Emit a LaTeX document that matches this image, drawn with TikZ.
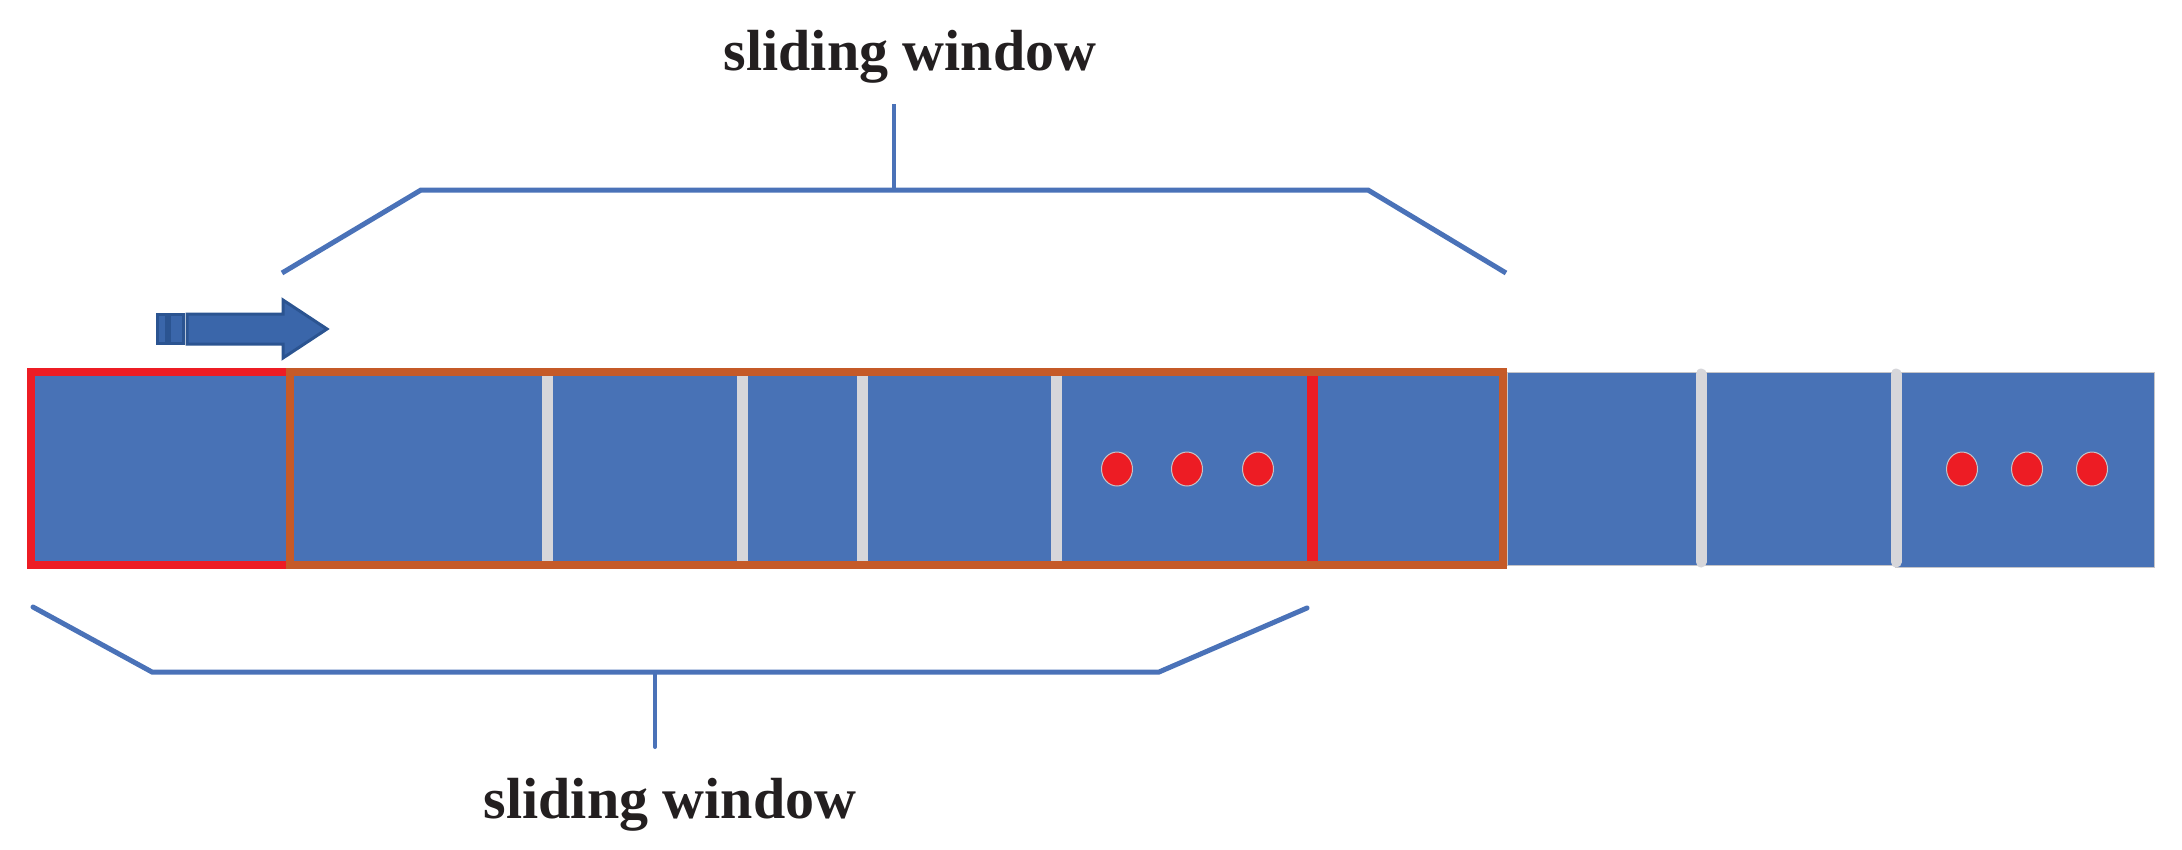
\documentclass[tikz,border=0pt]{standalone}
\usepackage{fontspec}
\setmainfont{Liberation Serif}
\definecolor{cellblue}{HTML}{4872B6}
\definecolor{brblue}{HTML}{4A72B8}
\definecolor{winorange}{HTML}{C55A28}
\definecolor{winred}{HTML}{ED1C24}
\definecolor{sepgray}{HTML}{D6D6DA}
\definecolor{edgegray}{HTML}{C4C4C8}
\definecolor{arrfill}{HTML}{3A66AA}
\definecolor{arredge}{HTML}{2B5491}
\definecolor{txt}{HTML}{231F20}
\tikzset{
  cell/.style={fill=cellblue, draw=edgegray, line width=1pt},
  sep/.style={draw=sepgray, line width=11pt, line cap=round},
  redsep/.style={draw=winred, line width=11pt, line cap=round},
  dot/.style={fill=winred, draw=edgegray, line width=1pt},
  bracket/.style={draw=brblue, line width=5pt, line join=miter},
  stem/.style={draw=brblue, line width=4pt},
  lbl/.style={font=\fontsize{58}{70}\selectfont\bfseries, text=txt, anchor=base, inner sep=0pt},
  arr/.style={fill=arrfill, draw=arredge, line width=3pt}
}
\begin{document}
\begin{tikzpicture}[x=1pt,y=-1pt]
\useasboundingbox (0,0) rectangle (2182,849);
% right strip
\path[cell] (1507,372) rectangle (1701,565);
\path[cell] (1701,372) rectangle (1895,565);
\path[cell] (1895,372) rectangle (2154,567);
% main windows fill
\fill[cellblue] (27,368) rectangle (1507,569);
% separators
\foreach \x/\n in {547/a,742/b,862/c,1056/d,1701/e,1896/f}{
  \coordinate (st\n) at (\x,374);
  \coordinate (sb\n) at (\x,562);
  \draw[sep] (st\n) -- (sb\n);
}
\coordinate (rt) at (1312,374);
\coordinate (rb) at (1312,562);
\draw[redsep] (rt) -- (rb);
% window frames
\draw[winred, line width=8pt] (31,372) rectangle (290,565);
\draw[winorange, line width=8pt] (290,372) rectangle (1503,565);
% dots
\foreach \x/\n in {1117/1,1187/2,1258/3,1962/4,2027/5,2092/6}{
  \path[dot] (\x,469) ellipse [x radius=15.5, y radius=17];
}
% arrow
\path[arr] (157,314) rectangle (166,343);
\path[arr] (169,314) rectangle (183,343);
\path[arr] (187,314) -- (283,314) -- (283,300) -- (327,329) -- (283,358) -- (283,344) -- (187,344) -- cycle;
% top bracket
\coordinate (tl) at (282,273);
\coordinate (tla) at (421,190);
\coordinate (tra) at (1368,190);
\coordinate (tr) at (1506,273);
\coordinate (tm) at (894,190);
\coordinate (tst) at (894,104);
\draw[bracket] (tl) -- (tla) -- (tra) -- (tr);
\draw[stem] (tm) -- (tst);
\node[lbl] (toplabel) at (910,70) {sliding window};
% bottom bracket
\coordinate (bl) at (33,607);
\coordinate (bla) at (152,672);
\coordinate (bra) at (1159,672);
\coordinate (br) at (1307,608);
\coordinate (bm) at (655,672);
\coordinate (bst) at (655,747);
\draw[bracket, line cap=round] (bl) -- (bla) -- (bra) -- (br);
\draw[stem, line cap=round] (bm) -- (bst);
\node[lbl] (botlabel) at (670,818) {sliding window};
\end{tikzpicture}
\end{document}
